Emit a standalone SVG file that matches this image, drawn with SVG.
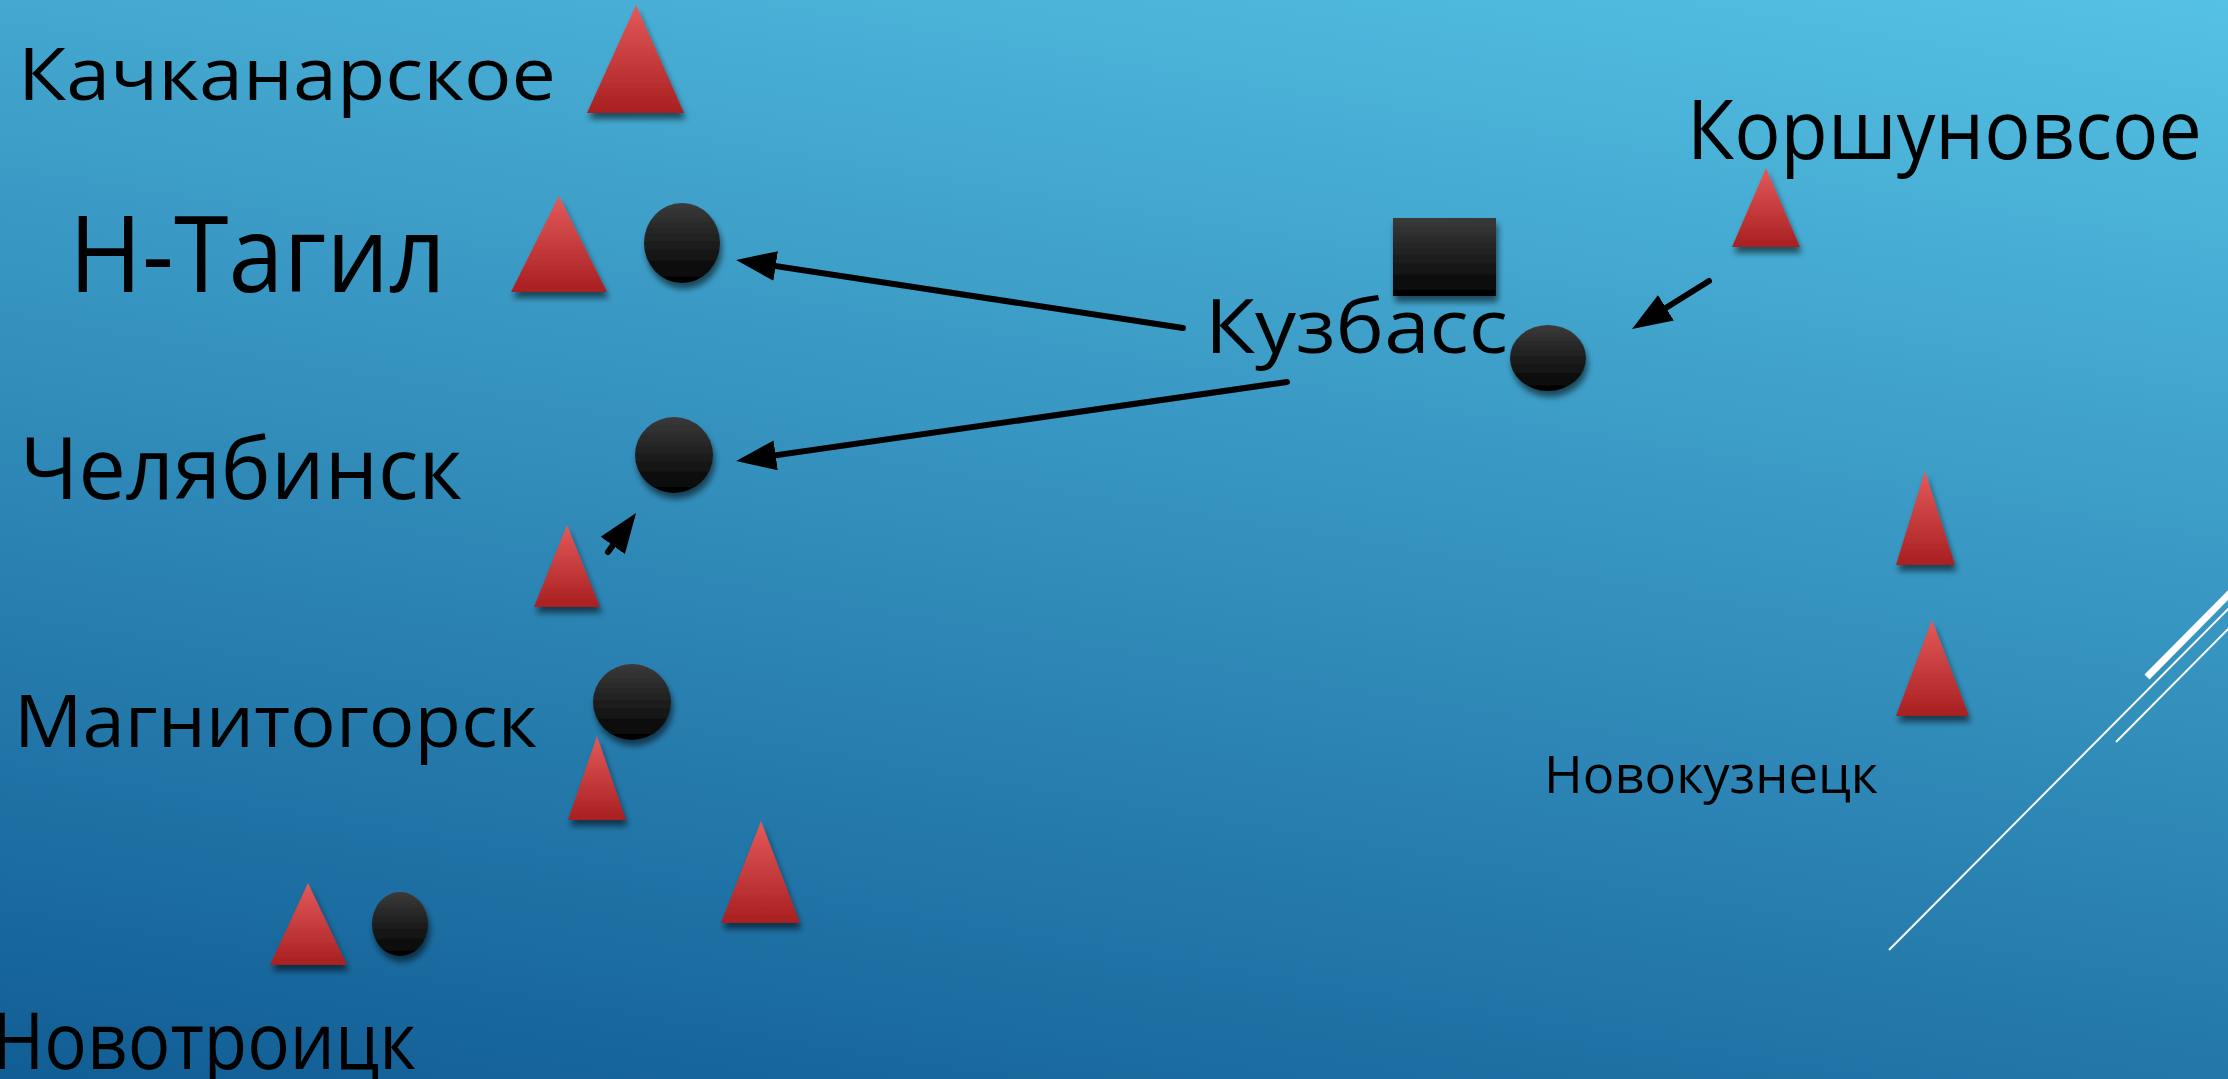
<svg xmlns="http://www.w3.org/2000/svg" width="2228" height="1079" viewBox="0 0 2228 1079">
<defs>
<linearGradient id="bg" gradientUnits="userSpaceOnUse" x1="2228" y1="0" x2="1983" y2="1458">
<stop offset="0" stop-color="#55c1e4"/>
<stop offset="1" stop-color="#0f5a92"/>
</linearGradient>
<linearGradient id="red" x1="0" y1="0" x2="0" y2="1">
<stop offset="0" stop-color="#e45a5a"/>
<stop offset="1" stop-color="#a81f20"/>
</linearGradient>
<linearGradient id="blk" x1="0" y1="0" x2="0" y2="1">
<stop offset="0" stop-color="#3a3a3a"/>
<stop offset="1" stop-color="#020202"/>
</linearGradient>
<filter id="sh" x="-30%" y="-30%" width="160%" height="170%">
<feGaussianBlur in="SourceAlpha" stdDeviation="3"/>
<feOffset dx="2" dy="6" result="b"/>
<feComponentTransfer><feFuncA type="linear" slope="0.55"/></feComponentTransfer>
<feMerge><feMergeNode/><feMergeNode in="SourceGraphic"/></feMerge>
</filter>
<marker id="ah" viewBox="0 0 8 6" markerWidth="40" markerHeight="30" refX="6" refY="3" orient="auto" markerUnits="userSpaceOnUse">
<path d="M0,0 L8,3 L0,6 z" fill="#000"/>
</marker>
</defs>
<style>
.t{font-family:"Open Sans","Noto Sans","DejaVu Sans",sans-serif;font-weight:400;fill:#000}
.tri{fill:url(#red);filter:url(#sh)}
.dot{fill:url(#blk);filter:url(#sh)}
.ar{stroke:#000;stroke-width:6;fill:none;stroke-linecap:round;marker-end:url(#ah)}
.deco{stroke:#fff;fill:none}
</style>
<rect width="2228" height="1079" fill="url(#bg)"/>
<g id="decor">
<line class="deco" x1="2147" y1="677" x2="2240" y2="583" stroke-width="7"/>
<line class="deco" x1="1889" y1="950" x2="2240" y2="597" stroke-width="2"/>
<line class="deco" x1="2116" y1="742" x2="2240" y2="617" stroke-width="2"/>
</g>
<g id="kachkanar">
<text class="t" x="18" y="100" font-size="74" textLength="538" lengthAdjust="spacingAndGlyphs">Качканарское</text>
<polygon class="tri" points="636,5 684,113 587,113"/>
</g>
<g id="ntagil">
<text class="t" x="69" y="292" font-size="107" textLength="377" lengthAdjust="spacingAndGlyphs">Н-Тагил</text>
<polygon class="tri" points="559,196 607,292 511,292"/>
<ellipse class="dot" cx="682" cy="243" rx="38" ry="40"/>
</g>
<g id="chelyabinsk">
<text class="t" x="20" y="499" font-size="86" textLength="442" lengthAdjust="spacingAndGlyphs">Челябинск</text>
<ellipse class="dot" cx="674" cy="455" rx="39" ry="38"/>
<polygon class="tri" points="567,525 600,607 534,607"/>
</g>
<g id="magnitogorsk">
<text class="t" x="14" y="747" font-size="73" textLength="523" lengthAdjust="spacingAndGlyphs">Магнитогорск</text>
<ellipse class="dot" cx="632" cy="702" rx="39" ry="38"/>
<polygon class="tri" points="597,736 626,820 568,820"/>
</g>
<g id="lone-triangle">
<polygon class="tri" points="761,821 800,923 721,923"/>
</g>
<g id="novotroitsk">
<polygon class="tri" points="308,883 347,965 270,965"/>
<ellipse class="dot" cx="400" cy="924" rx="28" ry="32"/>
<text class="t" x="-8" y="1069" font-size="78" textLength="424" lengthAdjust="spacingAndGlyphs">Новотроицк</text>
</g>
<g id="kuzbass">
<rect class="dot" x="1393" y="218" width="103" height="78"/>
<text class="t" x="1205" y="353" font-size="75" textLength="303" lengthAdjust="spacingAndGlyphs">Кузбасс</text>
<ellipse class="dot" cx="1548" cy="358" rx="38" ry="33"/>
</g>
<g id="korshunov">
<text class="t" x="1687" y="159" font-size="83" textLength="515" lengthAdjust="spacingAndGlyphs">Коршуновсое</text>
<polygon class="tri" points="1766,168 1800,247 1732,247"/>
</g>
<g id="novokuznetsk">
<polygon class="tri" points="1925,471 1955,565 1896,565"/>
<polygon class="tri" points="1932,620 1969,716 1896,716"/>
<text class="t" x="1544" y="793" font-size="51" textLength="334" lengthAdjust="spacingAndGlyphs">Новокузнецк</text>
</g>
<g id="connectors">
<line class="ar" x1="1183" y1="328" x2="746" y2="261.5"/>
<line class="ar" x1="1287" y1="382" x2="746" y2="459.6"/>
<line class="ar" x1="1709" y1="281" x2="1640.5" y2="323.7"/>
<line class="ar" x1="608" y1="552" x2="630.2" y2="521.1"/>
</g>
</svg>
